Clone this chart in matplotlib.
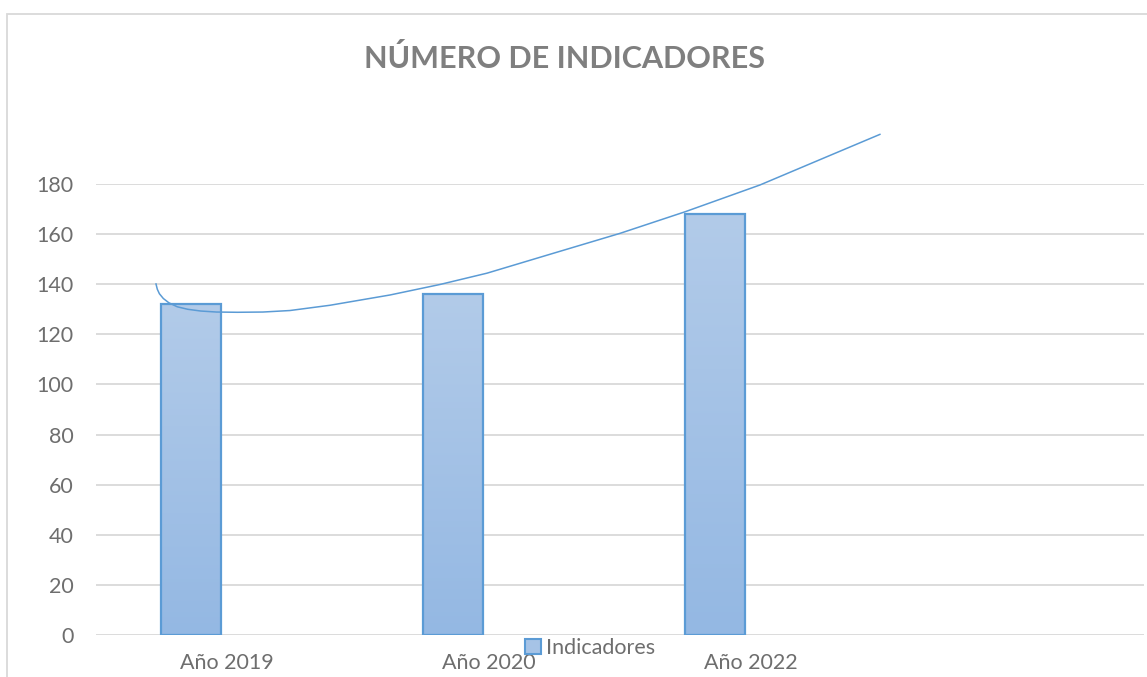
import matplotlib.pyplot as plt
import matplotlib.colors as mcolors
from matplotlib.patches import Rectangle, Patch
import numpy as np

# datos del grafico
categorias = ["Año 2019", "Año 2020", "Año 2022", ""]
indicadores = [132, 136, 168]
serie = "Indicadores"

# linea de tendencia (posicion de categoria, valor)
tend_x = [-0.271, -0.266, -0.258, -0.243, -0.222, -0.190, -0.150, -0.100, -0.040, 0.040,
          0.137, 0.240, 0.393, 0.622, 0.813, 0.992, 1.244, 1.500, 1.748, 2.034, 2.290, 2.492]
tend_y = [140.1, 138.0, 136.2, 134.3, 132.6, 131.0, 130.0, 129.3, 128.9, 128.8,
          128.9, 129.5, 131.6, 135.7, 139.9, 144.4, 152.3, 160.3, 168.9, 179.6, 190.9, 199.8]

gris = '#6E6E6E'
azul = '#5B9BD5'
fuente = 'Lato'

W, H = 1147, 677
fig = plt.figure(figsize=(W / 100, H / 100), dpi=100)
ax = fig.add_axes([96 / W, 42 / H, 1048 / W, 451 / H])

index = np.arange(len(indicadores))
bar_width = 0.229
rects = ax.bar(index - 0.137, indicadores, bar_width, facecolor='none',
               edgecolor=azul, linewidth=1.6, zorder=3)

# relleno degradado de cada barra
cmap = mcolors.LinearSegmentedColormap.from_list('azul', ['#94B8E3', '#B2CBE9'])
grad = np.linspace(0, 1, 256).reshape(-1, 1)
for r in rects:
    x0, w, h = r.get_x(), r.get_width(), r.get_height()
    im = ax.imshow(grad, extent=[x0, x0 + w, 0, h], origin='lower', cmap=cmap,
                   aspect='auto', zorder=2)
    im.set_clip_path(r)

ax.plot(tend_x, tend_y, color=azul, lw=1.1, zorder=4, clip_on=False,
        solid_joinstyle='round')

ax.set_xlim(-0.5, len(categorias) - 0.5)
ax.set_ylim(0, 180)
ax.set_yticks(np.arange(0, 181, 20))
ax.set_xticks(np.arange(len(categorias)))
ax.set_xticklabels(categorias)
ax.grid(axis='y', color='#D9D9D9', lw=1.3)
ax.set_axisbelow(True)
for s in ax.spines.values():
    s.set_visible(False)
ax.tick_params(length=0, colors=gris, labelsize=15.5)
ax.tick_params(axis='y', pad=16)
ax.tick_params(axis='x', pad=13)
for lab in ax.get_xticklabels() + ax.get_yticklabels():
    lab.set_fontfamily(fuente)

fig.text(564 / W, 1 - 58 / H, "NÚMERO DE INDICADORES", ha='center', va='center',
         fontsize=22, fontweight='bold', color='#7F7F7F', family=fuente)

handle = Patch(facecolor='#A6C3E6', edgecolor=azul, lw=1.5)
leg = fig.legend([handle], [serie], loc='center', bbox_to_anchor=(590 / W, 1 - 648 / H),
                 frameon=False, handlelength=0.75, handleheight=0.75, handletextpad=0.25,
                 prop={'family': fuente, 'size': 15.5})
for t in leg.get_texts():
    t.set_color(gris)

# marco del grafico
fig.patches.append(Rectangle((7 / W, -0.1), 1.2, 1 - 14 / H + 0.1, transform=fig.transFigure,
                             fill=False, edgecolor='#D9D9D9', lw=1.3))

plt.savefig('out.png', dpi=100)
